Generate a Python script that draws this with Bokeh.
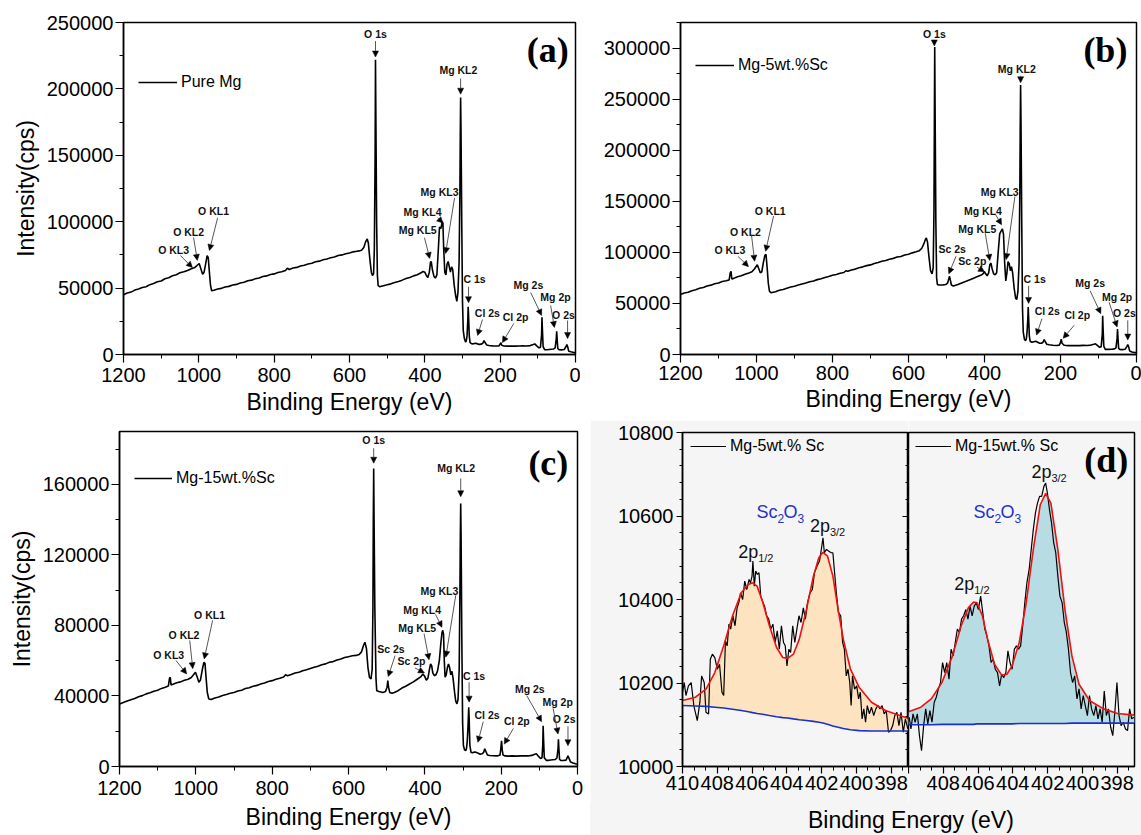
from bokeh.plotting import figure
from bokeh.models import (Range1d, SingleIntervalTicker, BasicTickFormatter, LinearAxis,
                          Arrow, NormalHead, ColumnDataSource, Legend, LegendItem, Div,
                          CustomJSTickFormatter)
from bokeh.layouts import row, column
from bokeh.core.properties import value
from bokeh.embed import file_html
from bokeh.resources import INLINE

FONT = "Liberation Sans"

# ---------------- (a) Pure Mg survey ----------------
a_energy = [1200, 1190, 1180, 1170, 1160, 1150, 1140, 1130, 1120, 1110,
            1100, 1090, 1080, 1070, 1060, 1050, 1040, 1030, 1020, 1012,
            1005, 999, 994, 990, 986, 982, 978, 975, 972, 969,
            966, 960, 950, 940, 930, 920, 910, 900, 890, 880,
            870, 860, 850, 840, 830, 820, 810, 800, 790, 780,
            770, 765, 760, 750, 740, 730, 720, 710, 700, 690,
            680, 670, 660, 650, 640, 630, 620, 610, 600, 590,
            580, 575, 568, 562, 557, 553, 550, 546, 542, 539,
            536, 534, 532, 531, 530, 528, 526, 524, 520, 510,
            500, 490, 480, 470, 460, 450, 440, 430, 420, 410,
            405, 400, 396, 392, 388, 385, 383, 380, 376, 372,
            368, 364, 361, 357, 354, 352, 350, 347, 344, 341,
            338, 335, 332, 329, 326, 322, 318, 315, 312, 309,
            307, 306, 305, 304, 302, 300, 298, 295, 292, 290,
            288, 286, 285, 284, 282, 280, 275, 270, 265, 260,
            255, 250, 246, 243, 240, 236, 230, 220, 210, 203,
            200, 198, 196, 190, 180, 170, 160, 150, 140, 130,
            120, 112, 108, 103, 97, 93, 90, 89, 88, 86,
            82, 75, 65, 58, 54, 51, 50, 49, 47, 44,
            38, 30, 25, 23, 21, 18, 12, 5, 0]
a_counts = [45000, 46300, 47000, 48500, 49300, 50500, 51000, 52600, 53400, 54800,
            55400, 57000, 57800, 59300, 60000, 61500, 62300, 63300, 64600, 65300,
            67000, 68500, 64000, 60500, 62000, 68000, 74500, 73000, 62000, 52000,
            48000, 48400, 49300, 49800, 50800, 51300, 52300, 52800, 53900, 54400,
            55500, 56000, 57000, 57600, 58700, 59200, 60200, 60700, 61800, 62300,
            63300, 65000, 64000, 65100, 65600, 66600, 67200, 68200, 68700, 69800,
            70300, 71300, 71900, 72800, 73400, 74500, 75000, 75900, 76400, 77300,
            77800, 78000, 78500, 80500, 85000, 87000, 84000, 72000, 62000, 59500,
            61000, 80000, 150000, 222000, 180000, 100000, 60000, 52000, 51000, 51800,
            52500, 53200, 54200, 55000, 56000, 57200, 58000, 59200, 60000, 61500,
            62500, 62000, 59500, 58000, 62000, 69500, 70000, 64000, 59000, 57500,
            60000, 80000, 96000, 95000, 100000, 99000, 80000, 62000, 60000, 68000,
            70000, 66000, 62000, 66000, 64000, 52000, 44000, 40000, 47000, 70000,
            120000, 160000, 193600, 170000, 100000, 40000, 18000, 12000, 9500, 10000,
            14000, 25000, 36000, 30000, 14000, 9000, 8000, 8200, 8500, 8000,
            7600, 7800, 8500, 10500, 9000, 7200, 6800, 6500, 6400, 6500,
            8000, 8800, 7000, 6400, 6300, 6400, 6300, 6400, 6500, 6400,
            6700, 7500, 8000, 6500, 5000, 5500, 15000, 28000, 20000, 6000,
            3700, 3600, 4000, 4200, 5000, 12000, 17500, 13000, 4500, 3700,
            3500, 3800, 6000, 7500, 6000, 2500, 2000, 1500, 1400]

# ---------------- (b) Mg-5wt.%Sc survey ----------------
b_energy = [1200, 1190, 1180, 1170, 1160, 1150, 1140, 1130, 1120, 1110,
            1100, 1090, 1080, 1072, 1069, 1067, 1065, 1060, 1050, 1040,
            1030, 1020, 1012, 1005, 998, 994, 990, 986, 982, 978,
            975, 972, 969, 966, 962, 950, 940, 930, 920, 910,
            900, 890, 880, 870, 860, 850, 840, 830, 820, 810,
            800, 790, 780, 770, 765, 760, 750, 740, 730, 720,
            710, 700, 690, 680, 670, 660, 650, 640, 630, 620,
            610, 600, 590, 580, 572, 565, 560, 555, 553, 550,
            546, 542, 538, 535, 533, 532, 531, 530, 528, 526,
            524, 520, 510, 502, 497, 494, 492, 490, 487, 482,
            470, 460, 450, 440, 430, 420, 410, 404, 400, 397,
            393, 389, 386, 383, 380, 376, 372, 368, 364, 360,
            356, 353, 350, 347, 344, 341, 338, 335, 332, 329,
            326, 322, 318, 315, 312, 309, 307, 306, 305, 304,
            302, 300, 298, 295, 292, 290, 288, 286, 285, 284,
            282, 280, 275, 270, 265, 260, 255, 250, 246, 243,
            240, 236, 230, 220, 210, 203, 200, 198, 196, 190,
            180, 170, 160, 150, 140, 130, 120, 112, 108, 103,
            97, 93, 90, 89, 88, 86, 82, 75, 65, 58,
            54, 51, 50, 49, 47, 44, 38, 30, 25, 23,
            21, 18, 12, 5, 0]
b_counts = [58800, 60200, 61000, 62500, 63400, 64800, 65600, 67000, 67900, 69300,
            70000, 71500, 72200, 73000, 80000, 81500, 74000, 74500, 76200, 77000,
            78600, 79800, 81000, 84000, 87800, 84000, 80000, 81000, 90000, 97000,
            98000, 85000, 70000, 62000, 60500, 61500, 62800, 63700, 64900, 66000,
            66800, 68000, 69100, 70000, 71200, 72000, 73300, 74200, 75400, 76300,
            77500, 78400, 79600, 80300, 82000, 81500, 82800, 83600, 84900, 85800,
            87000, 87700, 89100, 90000, 91200, 92000, 93300, 94100, 95400, 96000,
            97400, 98200, 99500, 100500, 101500, 104000, 108000, 113000, 114000, 110000,
            95000, 82000, 79000, 85000, 140000, 220000, 301000, 240000, 130000, 75000,
            68500, 68000, 68000, 68500, 70000, 74000, 76500, 73000, 68000, 67000,
            68500, 70000, 71500, 73000, 74500, 76000, 77500, 79000, 81000, 79000,
            77000, 80000, 88000, 89500, 84000, 79000, 78000, 80000, 100000, 118000,
            121000, 123000, 118000, 90000, 72000, 80000, 91000, 89000, 82000, 86000,
            80000, 65000, 55000, 54000, 62000, 90000, 160000, 220000, 263800, 230000,
            130000, 45000, 22000, 15000, 13500, 15000, 22000, 35000, 46500, 38000,
            18000, 13000, 12000, 12500, 13000, 12000, 11000, 11000, 12000, 14500,
            12500, 10000, 9500, 9000, 8800, 9200, 12000, 15000, 11000, 9000,
            8700, 8700, 8800, 8700, 8900, 8800, 9200, 10000, 10500, 9000,
            7000, 7500, 20000, 37800, 26000, 8000, 5000, 5000, 5200, 5500,
            6500, 16000, 24900, 18000, 6000, 5000, 4800, 5200, 8000, 9700,
            8000, 3500, 2500, 2000, 1800]

# ---------------- (c) Mg-15wt.%Sc survey ----------------
c_energy = [1200, 1190, 1180, 1170, 1160, 1150, 1140, 1130, 1120, 1110,
            1100, 1090, 1080, 1072, 1069, 1067, 1065, 1060, 1050, 1040,
            1030, 1020, 1012, 1006, 1001, 996, 992, 988, 983, 979,
            976, 973, 970, 966, 960, 950, 940, 930, 920, 910,
            900, 890, 880, 870, 860, 850, 840, 830, 820, 810,
            800, 790, 780, 770, 765, 760, 750, 740, 730, 720,
            710, 700, 690, 680, 670, 660, 650, 640, 630, 620,
            610, 600, 590, 580, 572, 566, 561, 557, 553, 549,
            545, 541, 538, 536, 535, 534, 533, 531, 528, 526,
            520, 510, 503, 499, 497, 495, 492, 486, 480, 470,
            460, 450, 440, 430, 420, 410, 405, 400, 396, 392,
            388, 385, 382, 379, 375, 371, 367, 362, 358, 355,
            353, 351, 349, 347, 344, 341, 338, 335, 332, 329,
            326, 322, 319, 316, 313, 310, 308, 307, 306, 305,
            303, 301, 299, 296, 293, 291, 289, 287, 285, 284,
            282, 279, 275, 270, 265, 260, 255, 250, 246, 243,
            240, 236, 230, 220, 210, 203, 201, 199, 197, 195,
            190, 180, 170, 160, 150, 140, 130, 120, 112, 108,
            103, 97, 93, 91, 90, 89, 87, 82, 75, 65,
            58, 54, 51, 50, 49, 47, 44, 38, 30, 27,
            25, 23, 18, 12, 5, 0]
c_counts = [35500, 36300, 37100, 37900, 38600, 39600, 40200, 41200, 41800, 42700,
            43300, 44300, 45000, 45600, 50000, 50600, 46300, 46600, 47500, 48000,
            48900, 49500, 50500, 52000, 53500, 50500, 47800, 49000, 55000, 59000,
            58500, 50000, 42000, 38300, 38000, 38900, 39400, 40300, 40800, 41500,
            42000, 42800, 43300, 44200, 44700, 45500, 46000, 46800, 47400, 48200,
            48700, 49500, 50100, 50800, 52000, 51500, 52200, 53000, 53500, 54300,
            54900, 55600, 56300, 56900, 57700, 58200, 59100, 59500, 60400, 61000,
            61800, 62300, 62800, 63000, 63500, 65000, 68500, 70500, 67000, 56000,
            50500, 49700, 55000, 90000, 140000, 169000, 140000, 90000, 50000, 43000,
            42500, 42000, 42500, 45000, 48700, 45000, 42000, 41500, 42000, 43000,
            44500, 45500, 46800, 48000, 49500, 51000, 52500, 51000, 49000, 50000,
            55000, 58200, 57000, 53000, 51500, 52000, 54000, 60000, 70000, 76000,
            77200, 75000, 60000, 50600, 52000, 56000, 58200, 56000, 52000, 54000,
            50000, 42000, 37000, 35500, 38000, 55000, 100000, 130000, 149200, 130000,
            70000, 25000, 12000, 9500, 9000, 10000, 14000, 22000, 33600, 28000,
            12000, 8000, 7800, 8200, 8000, 7500, 7000, 7200, 8000, 10000,
            8500, 6500, 6200, 6100, 6000, 6500, 10000, 14600, 9000, 6500,
            6000, 5900, 6000, 5900, 6000, 6100, 6000, 6300, 7000, 7200,
            6000, 4500, 5000, 12000, 23100, 16000, 5000, 3500, 3500, 3800,
            4000, 4800, 10000, 15500, 11000, 4000, 3500, 3400, 3600, 5000,
            6100, 5000, 2500, 2000, 1500, 1400]

# ---------------- peak labels of the surveys ----------------
a_peaks = ["O 1s", "Mg KL2", "Mg KL3", "Mg KL4", "Mg KL5", "O KL1", "O KL2", "O KL3",
           "C 1s", "Cl 2s", "Cl 2p", "Mg 2s", "Mg 2p", "O 2s"]
b_peaks = ["O 1s", "Mg KL2", "Mg KL3", "Mg KL4", "Mg KL5", "Sc 2s", "Sc 2p", "O KL1", "O KL2",
           "O KL3", "C 1s", "Cl 2s", "Cl 2p", "Mg 2s", "Mg 2p", "O 2s"]
c_peaks = b_peaks

# label anchor positions and arrow start/end (layout, in data units)
a_lab_x = [531, 311, 361, 406, 419, 961, 1027, 1067, 268, 234, 159, 125, 53, 32]
a_lab_y = [241700, 214600, 122000, 107000, 93400, 107700, 91900, 79000, 56500, 31600, 28600, 52000, 43000, 30100]
a_arr_x0 = [531, 305, 321, 366, 401, 950, 1014, 1049, 284, 247, 164, 119, 66, 21]
a_arr_y0 = [236000, 207800, 118000, 103000, 88000, 103000, 88100, 74500, 51000, 26300, 23300, 46700, 36900, 25600]
a_arr_x1 = [531, 305, 345, 352, 387, 972, 1004, 1017, 284, 260, 194, 90, 56, 21]
a_arr_y1 = [224000, 196000, 76000, 99000, 72300, 78300, 70800, 65500, 39000, 14300, 9000, 29400, 20300, 12000]

b_lab_x = [532, 315, 360, 404, 419, 485, 432, 964, 1029, 1070, 268, 235, 156, 122, 51, 32]
b_lab_y = [313800, 279400, 158800, 140200, 122500, 103500, 92000, 140500, 120200, 102600, 73600, 42400, 38300, 69800, 55900, 40500]
b_arr_x0 = [532, 305, 320, 371, 398, 475, 420, 955, 1013, 1049, 284, 249, 164, 122, 72, 23]
b_arr_y0 = [307300, 272900, 154600, 137000, 118600, 96100, 85500, 135700, 116400, 96100, 67200, 35000, 28600, 62400, 51100, 33400]
b_arr_x1 = [532, 305, 343, 355, 386, 494, 400, 976, 1005, 1021, 284, 263, 193, 94, 51, 23]
b_arr_y1 = [302000, 266000, 92900, 127000, 92000, 79000, 81000, 101000, 91300, 86000, 50000, 19000, 15800, 40000, 27000, 14100]

c_lab_x = [534, 318, 362, 407, 420, 489, 435, 964, 1031, 1071, 271, 237, 159, 125, 52, 35]
c_lab_y = [185200, 169100, 99500, 88900, 78500, 66700, 60100, 86100, 74300, 63500, 51600, 29200, 26000, 44000, 36800, 26900]
c_arr_x0 = [534, 306, 319, 372, 402, 478, 426, 956, 1016, 1052, 284, 247, 168, 133, 64, 25]
c_arr_y0 = [180500, 163400, 97100, 86300, 75300, 62900, 55900, 82900, 71500, 60100, 47800, 25400, 21600, 40200, 33000, 22800]
c_arr_x1 = [534, 306, 345, 355, 389, 496, 401, 978, 1008, 1024, 284, 261, 192, 94, 51, 25]
c_arr_y1 = [172000, 153000, 62000, 79000, 60500, 51000, 53100, 61000, 55500, 52500, 36500, 13700, 12700, 25400, 18400, 11800]

# ---------------- (d) Sc 2p high resolution ----------------
d1_energy = [410.0, 409.9, 409.8, 409.66, 409.5, 409.35, 409.15, 409.0, 408.9, 408.75,
             408.65, 408.5, 408.4, 408.28, 408.14, 408.0, 407.87, 407.73, 407.63, 407.53,
             407.43, 407.33, 407.23, 407.1, 406.98, 406.86, 406.76, 406.66, 406.54, 406.42,
             406.3, 406.17, 406.09, 406.0, 405.95, 405.87, 405.79, 405.69, 405.6, 405.5,
             405.4, 405.28, 405.16, 405.04, 404.92, 404.8, 404.67, 404.55, 404.43, 404.31,
             404.19, 404.09, 403.99, 403.88, 403.78, 403.66, 403.54, 403.42, 403.3, 403.18,
             403.05, 402.93, 402.81, 402.67, 402.53, 402.41, 402.26, 402.12, 402.0, 401.92,
             401.84, 401.72, 401.6, 401.45, 401.35, 401.25, 401.15, 401.03, 400.9, 400.79,
             400.69, 400.58, 400.48, 400.38, 400.3, 400.22, 400.1, 399.98, 399.87, 399.77,
             399.67, 399.57, 399.47, 399.37, 399.25, 399.13, 399.0, 398.88, 398.76, 398.64,
             398.52, 398.4, 398.28, 398.15, 398.03, 397.91, 397.79, 397.67, 397.55, 397.43,
             397.3, 397.18, 397.04]
d1_counts = [10178, 10201, 10170, 10193, 10201, 10146, 10110, 10154, 10217, 10201,
             10130, 10126, 10257, 10269, 10261, 10233, 10245, 10178, 10170, 10301,
             10289, 10341, 10329, 10361, 10337, 10380, 10392, 10416, 10400, 10444,
             10424, 10448, 10440, 10456, 10492, 10432, 10468, 10460, 10464, 10408,
             10396, 10384, 10361, 10353, 10329, 10341, 10297, 10325, 10281, 10337,
             10297, 10289, 10241, 10281, 10273, 10337, 10297, 10329, 10361, 10345,
             10380, 10353, 10392, 10416, 10424, 10464, 10480, 10492, 10524, 10548,
             10512, 10520, 10516, 10512, 10512, 10464, 10416, 10369, 10361, 10297,
             10281, 10217, 10233, 10201, 10146, 10217, 10185, 10193, 10162, 10178,
             10114, 10138, 10106, 10146, 10126, 10142, 10122, 10138, 10146, 10138,
             10146, 10126, 10134, 10082, 10086, 10098, 10122, 10130, 10098, 10130,
             10082, 10114, 10090]
d1_fit_energy = [410.0, 409.25, 408.64, 408.14, 407.63, 407.12, 406.62, 406.21, 405.97, 405.71,
                 405.4, 405.0, 404.59, 404.23, 403.95, 403.62, 403.28, 402.87, 402.47, 402.16,
                 401.92, 401.66, 401.35, 401.05, 400.75, 400.34, 399.83, 399.13, 398.32, 397.5, 397.0]
d1_fit = [10158, 10166, 10186, 10225, 10289, 10361, 10416, 10436, 10440, 10432,
          10396, 10337, 10285, 10261, 10259, 10269, 10305, 10376, 10456, 10500,
          10513, 10504, 10456, 10376, 10305, 10233, 10189, 10154, 10134, 10122, 10115]
d1_background = [10146, 10145, 10144, 10142, 10140, 10137, 10134, 10131, 10129, 10127,
                 10125, 10122, 10119, 10117, 10116, 10114, 10112, 10110, 10108, 10106,
                 10104, 10101, 10097, 10094, 10091, 10088, 10086, 10085, 10085, 10085, 10085]

d2_energy = [409.96, 409.86, 409.74, 409.62, 409.49, 409.37, 409.25, 409.13, 409.01, 408.89,
             408.77, 408.65, 408.52, 408.4, 408.28, 408.16, 408.04, 407.92, 407.8, 407.67,
             407.55, 407.43, 407.31, 407.19, 407.07, 406.95, 406.83, 406.7, 406.58, 406.46,
             406.34, 406.22, 406.1, 405.98, 405.85, 405.73, 405.61, 405.49, 405.37, 405.25,
             405.13, 405.01, 404.88, 404.76, 404.64, 404.52, 404.4, 404.28, 404.16, 404.04,
             403.91, 403.79, 403.67, 403.55, 403.43, 403.31, 403.19, 403.06, 402.94, 402.82,
             402.7, 402.58, 402.46, 402.34, 402.21, 402.11, 402.01, 401.89, 401.77, 401.65,
             401.53, 401.41, 401.29, 401.16, 401.04, 400.92, 400.8, 400.68, 400.56, 400.44,
             400.31, 400.19, 400.07, 399.95, 399.83, 399.71, 399.59, 399.47, 399.34, 399.22,
             399.1, 398.98, 398.86, 398.74, 398.62, 398.5, 398.37, 398.25, 398.13, 398.01,
             397.89, 397.77, 397.65, 397.52, 397.4, 397.28, 397.16, 397.04]
d2_counts = [10118, 10090, 10126, 10106, 10126, 10074, 10038, 10098, 10138, 10102,
             10134, 10106, 10154, 10166, 10186, 10201, 10249, 10225, 10249, 10209,
             10281, 10265, 10297, 10329, 10321, 10353, 10361, 10376, 10353, 10384,
             10361, 10384, 10392, 10376, 10408, 10369, 10329, 10313, 10289, 10249,
             10257, 10233, 10225, 10193, 10221, 10213, 10225, 10277, 10249, 10233,
             10281, 10289, 10281, 10289, 10337, 10392, 10440, 10472, 10520, 10568,
             10607, 10631, 10647, 10647, 10671, 10679, 10655, 10615, 10583, 10536,
             10512, 10456, 10408, 10392, 10345, 10321, 10281, 10225, 10201, 10217,
             10162, 10186, 10138, 10170, 10146, 10122, 10170, 10138, 10122, 10146,
             10114, 10138, 10106, 10181, 10122, 10138, 10094, 10074, 10130, 10201,
             10122, 10098, 10106, 10090, 10086, 10138, 10114, 10118]
d2_fit_energy = [410.0, 409.29, 408.69, 408.08, 407.47, 406.97, 406.56, 406.26, 406.06, 405.75,
                 405.45, 405.05, 404.64, 404.34, 404.04, 403.63, 403.23, 402.82, 402.42, 402.11,
                 401.81, 401.41, 401.0, 400.6, 400.19, 399.59, 398.78, 397.97, 397.0]
d2_fit = [10131, 10142, 10162, 10201, 10265, 10337, 10380, 10394, 10392, 10361,
          10305, 10245, 10219, 10221, 10241, 10297, 10392, 10520, 10627, 10654,
          10631, 10520, 10376, 10265, 10197, 10158, 10138, 10127, 10123]
d2_background = [10100, 10100, 10100, 10101, 10101, 10101, 10101, 10101, 10102, 10102,
                 10102, 10102, 10102, 10102, 10102, 10103, 10103, 10103, 10103, 10103,
                 10103, 10103, 10103, 10104, 10104, 10104, 10104, 10104, 10104]

d_x_ticks_hidden = {410: ""}


def base_fig(width, height, xr, yr, bl, br, bt, bb, bg="white"):
    p = figure(width=width, height=height, x_range=Range1d(*xr), y_range=Range1d(*yr),
               output_backend="svg", toolbar_location=None,
               min_border_left=bl, min_border_right=br, min_border_top=bt, min_border_bottom=bb)
    p.xgrid.visible = False
    p.ygrid.visible = False
    p.outline_line_color = "black"
    p.outline_line_width = 1.5
    p.outline_line_alpha = 1
    p.background_fill_color = bg
    p.border_fill_color = bg
    return p


def style_axis(ax, interval, minor, tick_out=8, minor_out=4):
    ax.ticker = SingleIntervalTicker(interval=interval, num_minor_ticks=minor)
    ax.formatter = BasicTickFormatter(use_scientific=False)
    ax.major_label_text_font = FONT
    ax.major_label_text_font_size = "20px"
    ax.major_label_text_color = "black"
    ax.axis_line_color = "black"
    ax.axis_line_width = 1.5
    ax.major_tick_line_color = "black"
    ax.major_tick_line_width = 1.2
    ax.minor_tick_line_color = "black"
    ax.minor_tick_line_width = 1
    ax.major_tick_in = 0
    ax.major_tick_out = tick_out
    ax.minor_tick_in = 0
    ax.minor_tick_out = minor_out
    ax.major_label_standoff = 2
    ax.axis_label_text_font = FONT
    ax.axis_label_text_font_size = "23px"
    ax.axis_label_text_font_style = "normal"
    ax.axis_label_text_color = "black"


def add_legend(p, renderer, label, loc, glyph_w):
    lg = Legend(items=[LegendItem(label=label, renderers=[renderer])], location=loc,
                padding=0, margin=0, spacing=0, glyph_width=glyph_w, glyph_height=20,
                label_height=20, label_standoff=4, border_line_alpha=0,
                background_fill_alpha=0, label_text_font=FONT, label_text_font_size="16px",
                label_text_color="black")
    p.add_layout(lg)


def survey(width, height, borders, ymax, yint, energy, counts, names, lx, ly,
           x0, y0, x1, y1, leg_label, leg_loc, leg_w, tag, tag_x, tag_y, ylabel, standoffs):
    bl, br, bt, bb = borders
    p = base_fig(width, height, (1200, 0), (0, ymax), bl, br, bt, bb)
    style_axis(p.xaxis[0], 200, 2)
    style_axis(p.yaxis[0], yint, 2)
    p.xaxis[0].axis_label = "Binding Energy (eV)"
    p.xaxis[0].major_label_standoff = standoffs[0]
    p.xaxis[0].axis_label_standoff = standoffs[1]
    if ylabel:
        p.yaxis[0].axis_label = ylabel
        p.yaxis[0].axis_label_standoff = 5
    r = p.line(energy, counts, line_color="black", line_width=1.6)
    add_legend(p, r, leg_label, leg_loc, leg_w)
    src = ColumnDataSource(dict(x=lx, y=ly, t=names))
    p.text(x="x", y="y", text="t", source=src, text_font=value(FONT), text_font_style="bold",
           text_font_size="10.5px", text_align="center", text_baseline="middle",
           text_color="#111111")
    asrc = ColumnDataSource(dict(x0=x0, y0=y0, x1=x1, y1=y1))
    p.add_layout(Arrow(end=NormalHead(size=6, fill_color="black", line_color="black", line_width=0.5),
                       x_start="x0", y_start="y0", x_end="x1", y_end="y1", source=asrc,
                       line_color="#444444", line_width=0.9))
    p.text(x=[tag_x], y=[tag_y], text=[tag], text_font=value("Liberation Serif"),
           text_font_style="bold", text_font_size="36px", text_align="right",
           text_baseline="middle", text_color="black")
    return p


fa = survey(580, 420, (123, 5, 22, 66), 250000, 50000, a_energy, a_counts, a_peaks,
            a_lab_x, a_lab_y, a_arr_x0, a_arr_y0, a_arr_x1, a_arr_y1,
            "Pure Mg", (15, 262), 39, "(a)", 18, 229000, "Intensity(cps)", (5, 4))
fb = survey(561, 420, (100, 5, 22, 62), 325000, 50000, b_energy, b_counts, b_peaks,
            b_lab_x, b_lab_y, b_arr_x0, b_arr_y0, b_arr_x1, b_arr_y1,
            "Mg-5wt.%Sc", (15, 279), 39, "(b)", 24, 298000, None, (3, 3))
fc = survey(590, 415, (119, 13, 11, 69), 190000, 40000, c_energy, c_counts, c_peaks,
            c_lab_x, c_lab_y, c_arr_x0, c_arr_y0, c_arr_x1, c_arr_y1,
            "Mg-15wt.%Sc", (15, 278), 38, "(c)", 24, 171900, "Intensity(cps)", (6, 6))

GRAY = "#f5f5f5"


def add_parts(p, x, y, parts, color):
    for txt, dx, dy, size in parts:
        p.text(x=[x], y=[y], text=[txt], x_offset=dx, y_offset=dy, text_font=value(FONT),
               text_font_size=size, text_align="left", text_baseline="middle", text_color=color)


def hr_panel(width, borders, energy, counts, fit_e, fit, base, fill, leg_label, leg_loc,
             sc_x, p12_x, p12_y, p32_x, p32_y, left_axis):
    bl, br, bt, bb = borders
    p = base_fig(width, 382, (410, 397), (10000, 10800), bl, br, bt, bb, bg=GRAY)
    style_axis(p.xaxis[0], 2, 3, tick_out=7, minor_out=4)
    if left_axis:
        style_axis(p.yaxis[0], 200, 5, tick_out=6, minor_out=3)
        p.yaxis[0].major_label_standoff = 3
        rax = LinearAxis()
        style_axis(rax, 200, 5)
        rax.formatter = CustomJSTickFormatter(code="return '';")
        rax.major_tick_in = 6
        rax.major_tick_out = 0
        rax.minor_tick_in = 3
        rax.minor_tick_out = 0
        rax.major_label_standoff = 0
        p.add_layout(rax, "right")
    else:
        p.xaxis[0].major_label_overrides = d_x_ticks_hidden
    p.varea(x=fit_e, y1=base, y2=fit, fill_color=fill, fill_alpha=1)
    r = p.line(energy, counts, line_color="black", line_width=1.2)
    p.line(fit_e, base, line_color="#1a2fd0", line_width=1.6)
    p.line(fit_e, fit, line_color="#ee1111", line_width=1.6)
    add_legend(p, r, leg_label, leg_loc, 36)
    add_parts(p, sc_x, 10609, [("Sc", 0, 0, "18px"), ("2", 21, 6, "12px"),
                               ("O", 27, 0, "18px"), ("3", 41, 6, "12px")], "#2233cc")
    add_parts(p, p12_x, p12_y, [("2p", 0, 0, "18px"), ("1/2", 20, 6, "11px")], "#111111")
    add_parts(p, p32_x, p32_y, [("2p", 0, 0, "18px"), ("3/2", 20, 6, "11px")], "#111111")
    return p


d1 = hr_panel(318, (92, 0, 12, 36), d1_energy, d1_counts, d1_fit_energy, d1_fit, d1_background,
              "#fde3c0", "Mg-5wt.% Sc", (8, 310), 405.75, 406.8, 10513, 402.67, 10577, True)
d2 = hr_panel(233, (0, 7, 12, 36), d2_energy, d2_counts, d2_fit_energy, d2_fit, d2_background,
              "#b8dce3", "Mg-15wt.% Sc", (7, 310), 406.26, 407.37, 10436, 402.93, 10705, False)
d2.yaxis.visible = False
d2.text(x=[397.36], y=[10733], text=["(d)"], text_font=value("Liberation Serif"),
        text_font_style="bold", text_font_size="36px", text_align="right",
        text_baseline="middle", text_color="black")

title_d = Div(text='<div style="font-family: \'Liberation Sans\', Arial, sans-serif; font-size: 23px; '
                   'padding-left: 218px; padding-top: 5px; line-height: 27px; color: black;">'
                   'Binding Energy (eV)</div>',
              width=551, height=33, margin=0, styles={"background-color": GRAY})

layout = column(row(fa, fb), row(fc, column(row(d1, d2), title_d)))

with open("out.html", "w") as f:
    f.write(file_html(layout, INLINE, title="XPS"))
